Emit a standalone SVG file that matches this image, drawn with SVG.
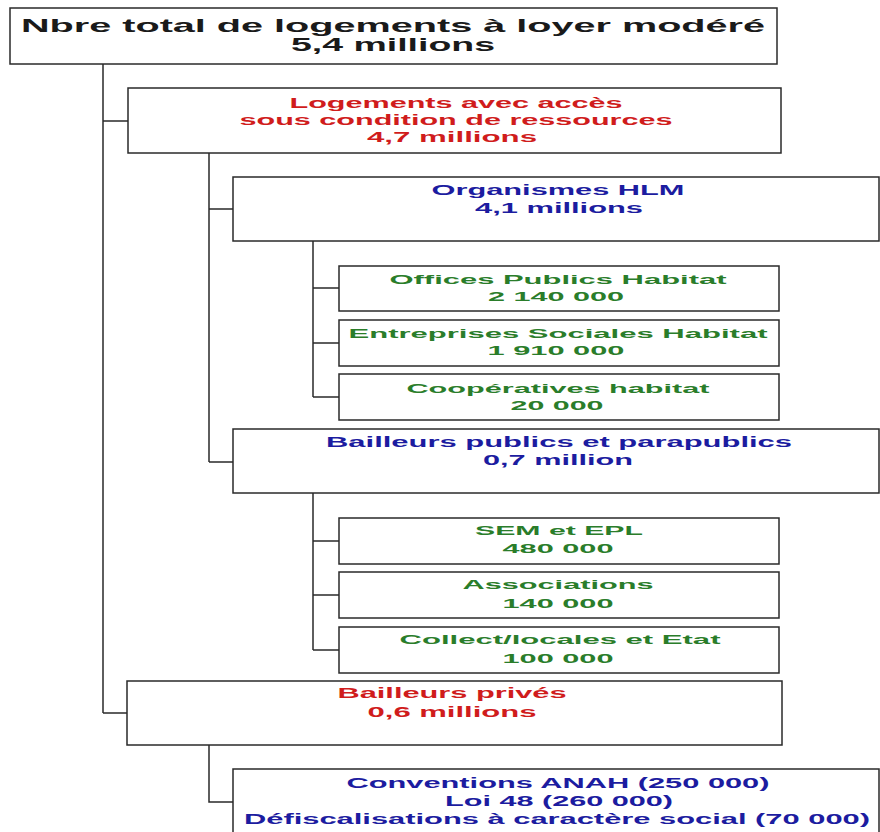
<svg xmlns="http://www.w3.org/2000/svg" width="880" height="832" viewBox="0 0 880 832">
  <style>
    .box { fill: #ffffff; stroke: #2a2a2a; stroke-width: 1.5; }
    .link { fill: none; stroke: #2a2a2a; stroke-width: 1.5; }
    text { font-family: "Liberation Sans", Arial, sans-serif; font-weight: bold; text-anchor: middle; }
    .t0 { font-size: 18.5px; fill: #1a1a1a; }
    .red { font-size: 14px; fill: #d01c1c; }
    .blue { font-size: 14px; fill: #1c1ca0; }
    .green { font-size: 13.5px; fill: #2a7d2a; }
  </style>
  <rect width="880" height="832" fill="#ffffff"/>

  <!-- tree connectors -->
  <g id="connectors">
    <path class="link" d="M103,64 V713 M103,121 H128 M103,713 H127"/>
    <path class="link" d="M209,153 V462 M209,209 H233 M209,462 H233"/>
    <path class="link" d="M313,241 V397 M313,288 H339 M313,343 H339 M313,397 H339"/>
    <path class="link" d="M313,493 V650 M313,541 H339 M313,595 H339 M313,650 H339"/>
    <path class="link" d="M209,745 V802 H233"/>
  </g>

  <g id="total">
    <rect class="box" x="10" y="8" width="767" height="56"/>
    <text class="t0" x="393" y="32" textLength="744" lengthAdjust="spacingAndGlyphs">Nbre total de logements à loyer modéré</text>
    <text class="t0" x="393" y="51" textLength="204" lengthAdjust="spacingAndGlyphs">5,4 millions</text>
  </g>

  <g id="acces-ressources">
    <rect class="box" x="128" y="88" width="653" height="65"/>
    <text class="red" x="456" y="108" textLength="333" lengthAdjust="spacingAndGlyphs">Logements avec accès</text>
    <text class="red" x="456" y="125" textLength="433" lengthAdjust="spacingAndGlyphs">sous condition de ressources</text>
    <text class="red" x="452" y="142" textLength="170" lengthAdjust="spacingAndGlyphs">4,7 millions</text>
  </g>

  <g id="organismes-hlm">
    <rect class="box" x="233" y="177" width="646" height="64"/>
    <text class="blue" x="558" y="195" textLength="253" lengthAdjust="spacingAndGlyphs">Organismes HLM</text>
    <text class="blue" x="559" y="213" textLength="168" lengthAdjust="spacingAndGlyphs">4,1 millions</text>
  </g>

  <g id="offices-publics">
    <rect class="box" x="339" y="266" width="440" height="45"/>
    <text class="green" x="558" y="284" textLength="337" lengthAdjust="spacingAndGlyphs">Offices Publics Habitat</text>
    <text class="green" x="556" y="301" textLength="136" lengthAdjust="spacingAndGlyphs">2 140 000</text>
  </g>

  <g id="entreprises-sociales">
    <rect class="box" x="339" y="320" width="440" height="46"/>
    <text class="green" x="558" y="338" textLength="419" lengthAdjust="spacingAndGlyphs">Entreprises Sociales Habitat</text>
    <text class="green" x="556" y="355" textLength="137" lengthAdjust="spacingAndGlyphs">1 910 000</text>
  </g>

  <g id="cooperatives">
    <rect class="box" x="339" y="374" width="440" height="46"/>
    <text class="green" x="558" y="393" textLength="303" lengthAdjust="spacingAndGlyphs">Coopératives habitat</text>
    <text class="green" x="557" y="410" textLength="93" lengthAdjust="spacingAndGlyphs">20 000</text>
  </g>

  <g id="bailleurs-publics">
    <rect class="box" x="233" y="429" width="646" height="64"/>
    <text class="blue" x="559" y="447" textLength="466" lengthAdjust="spacingAndGlyphs">Bailleurs publics et parapublics</text>
    <text class="blue" x="558" y="465" textLength="150" lengthAdjust="spacingAndGlyphs">0,7 million</text>
  </g>

  <g id="sem-epl">
    <rect class="box" x="339" y="518" width="440" height="46"/>
    <text class="green" x="559" y="535" textLength="168" lengthAdjust="spacingAndGlyphs">SEM et EPL</text>
    <text class="green" x="558" y="553" textLength="111" lengthAdjust="spacingAndGlyphs">480 000</text>
  </g>

  <g id="associations">
    <rect class="box" x="339" y="572" width="440" height="46"/>
    <text class="green" x="558" y="589" textLength="191" lengthAdjust="spacingAndGlyphs">Associations</text>
    <text class="green" x="558" y="608" textLength="111" lengthAdjust="spacingAndGlyphs">140 000</text>
  </g>

  <g id="collectivites-etat">
    <rect class="box" x="339" y="627" width="440" height="46"/>
    <text class="green" x="560" y="644" textLength="321" lengthAdjust="spacingAndGlyphs">Collect/locales et Etat</text>
    <text class="green" x="558" y="663" textLength="111" lengthAdjust="spacingAndGlyphs">100 000</text>
  </g>

  <g id="bailleurs-prives">
    <rect class="box" x="127" y="681" width="655" height="64"/>
    <text class="red" x="452" y="698" textLength="229" lengthAdjust="spacingAndGlyphs">Bailleurs privés</text>
    <text class="red" x="452" y="717" textLength="169" lengthAdjust="spacingAndGlyphs">0,6 millions</text>
  </g>

  <g id="conventions">
    <rect class="box" x="233" y="769" width="646" height="80"/>
    <text class="blue" x="558" y="788" textLength="423" lengthAdjust="spacingAndGlyphs">Conventions ANAH (250 000)</text>
    <text class="blue" x="559" y="806" textLength="228" lengthAdjust="spacingAndGlyphs">Loi 48 (260 000)</text>
    <text class="blue" x="557" y="824" textLength="626" lengthAdjust="spacingAndGlyphs">Défiscalisations à caractère social (70 000)</text>
  </g>
</svg>
